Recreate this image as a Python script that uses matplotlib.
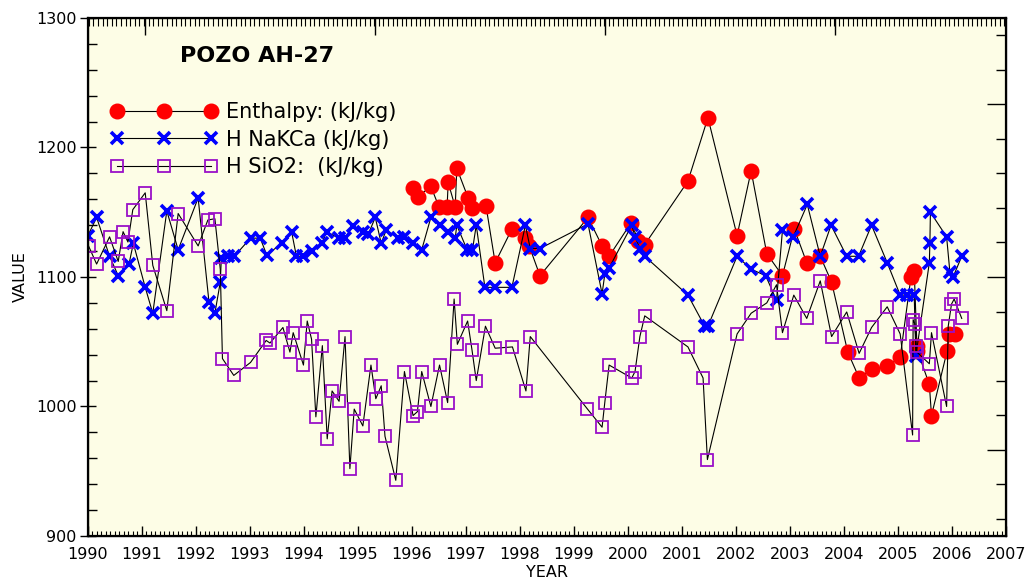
import numpy as np
import matplotlib.pyplot as plt
from matplotlib.ticker import MultipleLocator, NullFormatter

plt.rcParams['font.family'] = ['DejaVu Sans']

# Entalpia medida (kJ/kg)
ent_year = [1996.02, 1996.11, 1996.35, 1996.50, 1996.65, 1996.67, 1996.80, 1996.83,
            1997.04, 1997.11, 1997.37, 1997.54, 1997.85, 1998.10, 1998.17, 1998.37,
            1999.26, 1999.52, 1999.65, 2000.06, 2000.19, 2000.31, 2001.11, 2001.48,
            2002.02, 2002.28, 2002.57, 2002.86, 2003.08, 2003.31, 2003.56, 2003.77,
            2004.07, 2004.28, 2004.51, 2004.80, 2005.04, 2005.24, 2005.30, 2005.35,
            2005.36, 2005.58, 2005.62, 2005.91, 2005.95, 2006.06]
ent_val = [1169, 1162, 1170, 1154, 1154, 1173, 1154, 1184,
           1161, 1153, 1155, 1111, 1137, 1130, 1124, 1101,
           1146, 1124, 1116, 1142, 1128, 1125, 1174, 1223,
           1132, 1182, 1118, 1101, 1137, 1111, 1116, 1096,
           1042, 1022, 1029, 1031, 1038, 1100, 1105, 1047,
           1043, 1017, 993, 1043, 1056, 1056]

# Geotermometro NaKCa
nak_year = [1990.00, 1990.16, 1990.40, 1990.56, 1990.76, 1990.84, 1991.06, 1991.20,
            1991.46, 1991.67, 1992.04, 1992.24, 1992.35, 1992.45, 1992.47, 1992.60,
            1992.71, 1993.01, 1993.19, 1993.31, 1993.59, 1993.77, 1993.86, 1993.99,
            1994.14, 1994.33, 1994.42, 1994.64, 1994.76, 1994.90, 1995.10, 1995.19,
            1995.32, 1995.43, 1995.52, 1995.75, 1995.85, 1996.02, 1996.18, 1996.35,
            1996.51, 1996.66, 1996.80, 1996.83, 1997.02, 1997.12, 1997.19, 1997.35,
            1997.54, 1997.85, 1998.10, 1998.19, 1998.37, 1999.26, 1999.52, 1999.57,
            1999.65, 2000.07, 2000.13, 2000.22, 2000.31, 2001.11, 2001.42, 2001.48,
            2002.02, 2002.28, 2002.55, 2002.75, 2002.86, 2003.06, 2003.32, 2003.56,
            2003.76, 2004.05, 2004.27, 2004.51, 2004.80, 2005.04, 2005.17, 2005.30,
            2005.33, 2005.58, 2005.59, 2005.60, 2005.90, 2005.96, 2006.02, 2006.18]
nak_val = [1132, 1146, 1116, 1101, 1110, 1126, 1092, 1072,
           1151, 1121, 1161, 1081, 1072, 1096, 1115, 1116,
           1116, 1130, 1130, 1117, 1126, 1135, 1116, 1116,
           1120, 1126, 1135, 1130, 1130, 1139, 1135, 1133,
           1146, 1126, 1136, 1130, 1131, 1126, 1121, 1146,
           1140, 1135, 1130, 1140, 1121, 1121, 1140, 1092,
           1092, 1092, 1140, 1122, 1122, 1141, 1087, 1102,
           1107, 1140, 1131, 1122, 1116, 1086, 1062, 1062,
           1116, 1106, 1101, 1082, 1136, 1131, 1156, 1116,
           1140, 1116, 1116, 1140, 1111, 1086, 1086, 1086,
           1039, 1111, 1126, 1150, 1131, 1104, 1100, 1116]

# Geotermometro SiO2
sio_year = [1990.01, 1990.16, 1990.40, 1990.56, 1990.65, 1990.74, 1990.83, 1991.06,
            1991.20, 1991.46, 1991.67, 1992.04, 1992.22, 1992.35, 1992.45, 1992.49,
            1992.70, 1993.01, 1993.30, 1993.37, 1993.61, 1993.74, 1993.80, 1993.99,
            1994.06, 1994.14, 1994.22, 1994.34, 1994.43, 1994.52, 1994.65, 1994.76,
            1994.85, 1994.93, 1995.09, 1995.24, 1995.33, 1995.43, 1995.50, 1995.70,
            1995.86, 1996.02, 1996.10, 1996.18, 1996.35, 1996.51, 1996.66, 1996.78,
            1996.84, 1997.03, 1997.11, 1997.19, 1997.36, 1997.54, 1997.86, 1998.11,
            1998.19, 1999.25, 1999.52, 1999.57, 1999.65, 2000.07, 2000.13, 2000.22,
            2000.31, 2001.11, 2001.39, 2001.47, 2002.02, 2002.28, 2002.57, 2002.75,
            2002.86, 2003.07, 2003.31, 2003.56, 2003.77, 2004.05, 2004.28, 2004.51,
            2004.80, 2005.04, 2005.27, 2005.28, 2005.31, 2005.34, 2005.35, 2005.58,
            2005.62, 2005.90, 2005.93, 2005.99, 2006.04, 2006.18]
sio_val = [1124, 1110, 1131, 1112, 1135, 1127, 1152, 1165,
           1109, 1074, 1149, 1124, 1144, 1145, 1106, 1037,
           1024, 1034, 1051, 1049, 1061, 1042, 1057, 1032,
           1066, 1052, 992, 1047, 975, 1012, 1004, 1054,
           952, 998, 985, 1032, 1006, 1016, 977, 943,
           1027, 993, 996, 1027, 1000, 1032, 1003, 1083,
           1048, 1066, 1044, 1020, 1062, 1045, 1046, 1012,
           1054, 998, 984, 1003, 1032, 1022, 1027, 1054,
           1070, 1046, 1022, 959, 1056, 1072, 1080, 1094,
           1057, 1086, 1068, 1097, 1054, 1073, 1041, 1061,
           1077, 1056, 978, 1067, 1064, 1047, 1042, 1033,
           1057, 1000, 1062, 1079, 1083, 1068]

fig = plt.figure(figsize=(10.35, 5.84), dpi=100)
ax = fig.add_axes([0.085, 0.0822, 0.887, 0.887])
ax.set_facecolor('#fdfde6')

ax.plot(ent_year, ent_val, color='black', lw=0.8, marker='o', ms=10.5,
        mfc='#ff0000', mec='#ff0000', label='Enthalpy: (kJ/kg)')
ax.plot(nak_year, nak_val, color='black', lw=0.8, marker='x', ms=8.5, mew=2.6,
        mec='#0000ff', label='H NaKCa (kJ/kg)')
ax.plot(sio_year, sio_val, color='black', lw=0.8, marker='s', ms=9, mew=1.3,
        mfc='none', mec='#9a10c8', label='H SiO2:  (kJ/kg)')

ax.set_xlim(1990, 2007)
ax.set_ylim(900, 1300)
ax.xaxis.set_major_locator(MultipleLocator(1))
ax.xaxis.set_minor_locator(MultipleLocator(1 / 12))
ax.yaxis.set_major_locator(MultipleLocator(100))
ax.yaxis.set_minor_locator(MultipleLocator(20))
ax.tick_params(axis='x', which='major', direction='in', length=7, width=1,
               labelsize=11.5, pad=8)
ax.tick_params(axis='x', which='minor', direction='in', length=3.5, width=0.8)
ax.tick_params(axis='y', which='major', direction='inout', length=12, width=1,
               labelsize=11.5, pad=2)
ax.tick_params(axis='y', which='minor', direction='in', length=6.5, width=1)
for s in ax.spines.values():
    s.set_linewidth(1.6)

# eje superior sin etiquetas
ax3 = ax.twiny()
ax3.set_xlim(1990, 2007)
ax3.xaxis.set_major_locator(MultipleLocator(4.26, offset=1991.06 - 4.26 * 467))
ax3.xaxis.set_minor_locator(MultipleLocator(4.26 / 50))
ax3.xaxis.set_major_formatter(NullFormatter())
ax3.tick_params(axis='x', which='major', direction='in', length=12, width=1)
ax3.tick_params(axis='x', which='minor', direction='in', length=6, width=0.8)

# eje derecho sin etiquetas
ax2 = ax.twinx()
ax2.set_ylim(50, 350)
ax2.yaxis.set_major_locator(MultipleLocator(100))
ax2.yaxis.set_minor_locator(MultipleLocator(20))
ax2.yaxis.set_major_formatter(NullFormatter())
ax2.tick_params(axis='y', which='major', direction='in', length=14, width=1)
ax2.tick_params(axis='y', which='minor', direction='in', length=7, width=1)

ax.set_xlabel('YEAR', fontsize=11.5, labelpad=2)
ax.set_ylabel('VALUE', fontsize=11.5, labelpad=6)

ax.text(0.184, 0.927, 'POZO AH-27', transform=ax.transAxes, fontsize=16,
        fontweight='bold', ha='center', va='center')

ax.legend(loc='upper left', bbox_to_anchor=(0.0248, 0.838), frameon=False,
          numpoints=3, handlelength=5.1, handletextpad=0.42, fontsize=15,
          labelspacing=0.37, borderpad=0, borderaxespad=0)

fig.savefig('out.png', dpi=100)
